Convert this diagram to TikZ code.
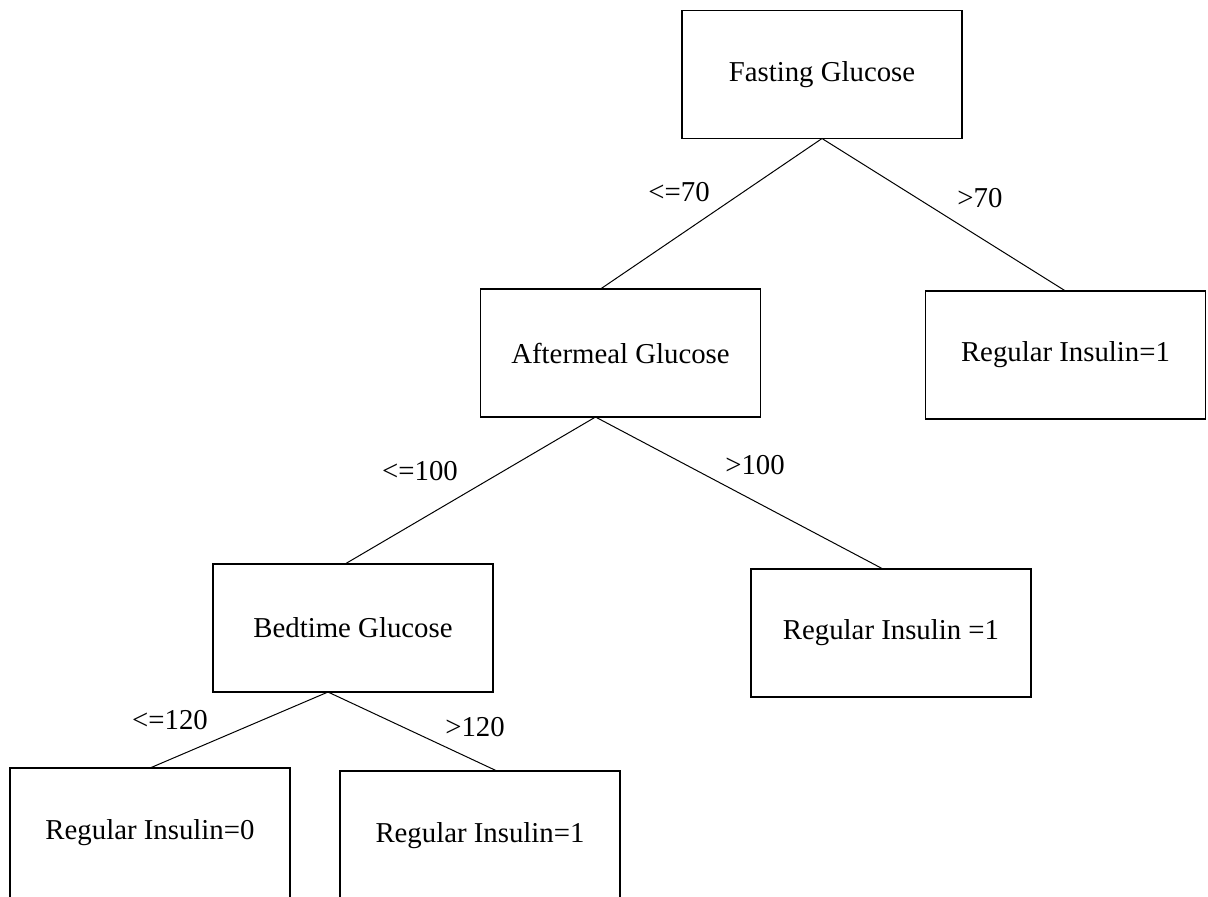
\documentclass[tikz,border=0pt]{standalone}
\usepackage{fontspec}
\setmainfont{Liberation Serif}
\usetikzlibrary{calc}
\tikzset{
  box/.style={draw,line width=0.6pt,minimum width=140pt,minimum height=64pt,inner sep=0pt,outer sep=0pt},
  cut/.style={font=\fontsize{14.4pt}{17pt}\selectfont,inner sep=0pt}
}
\begin{document}
\begin{tikzpicture}[x=0.5pt,y=-0.5pt,font=\fontsize{14.4pt}{17pt}\selectfont]
\useasboundingbox (0,0) rectangle (1208,896);
\clip (0,0) rectangle (1208,896);
\node[box] (fg) at (822,74.5) {Fasting Glucose};
\node[box] (am) at (620.5,353) {Aftermeal Glucose};
\node[box] (ri) at (1065.5,355) {Regular Insulin=1};
\node[box] (bg) at (353,628) {Bedtime Glucose};
\node[box] (ri2) at (891,633) {Regular Insulin =1};
\node[box,minimum height=65pt] (ri0) at (150,833) {Regular Insulin=0};
\node[box,minimum height=65pt] (ri1) at (480,836) {Regular Insulin=1};
\draw[line width=0.5pt] ($(am.north)+(-20,0)$) -- (fg.south) -- (ri.north);
\draw[line width=0.5pt] ($(bg.north)+(-8,0)$) -- ($(am.south)+(-25,0)$) -- ($(ri2.north)+(-8,0)$);
\draw[line width=0.5pt] (ri0.north) -- ($(bg.south)+(-25,0)$) -- ($(ri1.north)+(17,0)$);
\node[cut] (le70) at (679,192) {<=70};
\node[cut] (gt70) at (980,198) {>70};
\node[cut] (le100) at (420,471) {<=100};
\node[cut] (gt100) at (755,465) {>100};
\node[cut] (le120) at (170,720) {<=120};
\node[cut] (gt120) at (475,727) {>120};
\end{tikzpicture}
\end{document}
